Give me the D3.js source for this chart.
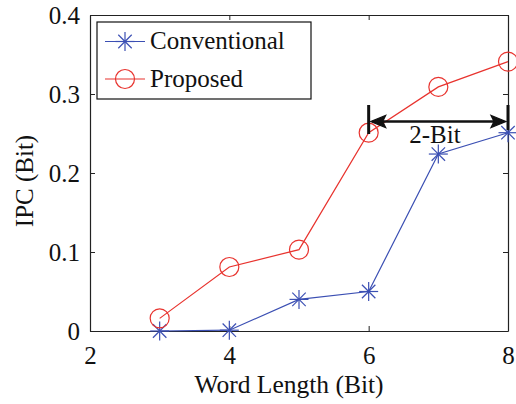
<!DOCTYPE html>
<html><head><meta charset="utf-8">
<script src="https://cdn.jsdelivr.net/npm/d3@7"></script>
<style>body{margin:0;background:#fff}svg{display:block}text{font-family:"Liberation Serif","Times New Roman",serif;fill:#111}</style>
</head><body>
<script>
const wordLength = [3, 4, 5, 6, 7, 8];
const conventional = [0.0, 0.001, 0.040, 0.050, 0.224, 0.251];
const proposed = [0.016, 0.081, 0.103, 0.251, 0.309, 0.341];
const xTicks = [2, 4, 6, 8];
const yTicks = [0, 0.1, 0.2, 0.3, 0.4];
const seriesNames = ["Conventional", "Proposed"];

(function () {
const W = 516, H = 404;
const m = {l: 90, r: 8, t: 15, b: 73};
const svg = d3.select("body").append("svg").attr("width", W).attr("height", H);
const x = d3.scaleLinear().domain([2, 8]).range([m.l, W - m.r]);
const y = d3.scaleLinear().domain([0, 0.4]).range([H - m.b, m.t]);
const fs = 25;

const gBottom = svg.append("g").attr("transform", `translate(0,${H - m.b})`)
  .call(d3.axisBottom(x).tickValues(xTicks).tickFormat(d3.format("d")).tickSizeInner(-5).tickSizeOuter(0).tickPadding(15));
const gLeft = svg.append("g").attr("transform", `translate(${m.l},0)`)
  .call(d3.axisLeft(y).tickValues(yTicks).tickFormat(d => d === 0 ? "0" : d3.format(".1f")(d)).tickSizeInner(-5).tickSizeOuter(0).tickPadding(10));
const gTop = svg.append("g").attr("transform", `translate(0,${m.t})`)
  .call(d3.axisTop(x).tickValues(xTicks).tickFormat("").tickSizeInner(-5).tickSizeOuter(0));
const gRight = svg.append("g").attr("transform", `translate(${W - m.r},0)`)
  .call(d3.axisRight(y).tickValues(yTicks).tickFormat("").tickSizeInner(-5).tickSizeOuter(0));
[gBottom, gLeft, gTop, gRight].forEach(g => {
  g.selectAll("path").attr("stroke", "#222").attr("stroke-width", 1.2);
  g.selectAll("line").attr("stroke", "#222").attr("stroke-width", 1);
  g.selectAll("text").style("font-size", fs + "px").style("font-family", '"Liberation Serif", serif').attr("fill", "#111");
});

svg.append("text").attr("x", 289).attr("y", 393).attr("text-anchor", "middle").style("font-size", "25.5px").text("Word Length (Bit)");
svg.append("text").attr("transform", `translate(33,181) rotate(-90)`).attr("text-anchor", "middle").style("font-size", fs + "px").text("IPC (Bit)");

const blue = "#3b4fb3", red = "#e8332e";
const line = d3.line().x((d, i) => x(wordLength[i])).y(d => y(d));

svg.append("path").datum(conventional).attr("d", line).attr("fill", "none").attr("stroke", blue).attr("stroke-width", 1.2);
function star(g, cx, cy, r, col) {
  for (let k = 0; k < 4; k++) {
    const a = k * Math.PI / 4;
    g.append("line").attr("x1", cx - r * Math.cos(a)).attr("y1", cy - r * Math.sin(a))
      .attr("x2", cx + r * Math.cos(a)).attr("y2", cy + r * Math.sin(a)).attr("stroke", col).attr("stroke-width", 1.2);
  }
}
const sg = svg.append("g");
conventional.forEach((v, i) => star(sg, x(wordLength[i]), y(v), 9.5, blue));

svg.append("path").datum(proposed).attr("d", line).attr("fill", "none").attr("stroke", red).attr("stroke-width", 1.2);
svg.append("g").selectAll("circle").data(proposed).join("circle")
  .attr("cx", (d, i) => x(wordLength[i])).attr("cy", d => y(d)).attr("r", 9.5)
  .attr("fill", "none").attr("stroke", red).attr("stroke-width", 1.2);

const ann = svg.append("g");
const ay = 121.5;
ann.append("line").attr("x1", x(6)).attr("x2", x(6)).attr("y1", 105).attr("y2", 134).attr("stroke", "#111").attr("stroke-width", 3);
ann.append("line").attr("x1", x(8)).attr("x2", x(8)).attr("y1", 105).attr("y2", 130).attr("stroke", "#111").attr("stroke-width", 3);
ann.append("line").attr("x1", x(6) + 4).attr("x2", x(8) - 4).attr("y1", ay).attr("y2", ay).attr("stroke", "#111").attr("stroke-width", 2.5);
ann.append("path").attr("d", `M${x(6)+2},${ay} l15,-6 l-3,6 l3,6 z`).attr("fill", "#111").attr("stroke", "#111").attr("stroke-width", 1.2).attr("stroke-linejoin", "miter");
ann.append("path").attr("d", `M${x(8)-2},${ay} l-15,-6 l3,6 l-3,6 z`).attr("fill", "#111").attr("stroke", "#111").attr("stroke-width", 1.2).attr("stroke-linejoin", "miter");
ann.append("text").attr("x", 435).attr("y", 143).attr("text-anchor", "middle").style("font-size", fs + "px").text("2-Bit");

const lg = svg.append("g");
lg.append("rect").attr("x", 97).attr("y", 22).attr("width", 214).attr("height", 77).attr("fill", "#fff").attr("stroke", "#111").attr("stroke-width", 1.2);
const rows = [41.5, 79];
lg.append("line").attr("x1", 105).attr("x2", 145).attr("y1", rows[0]).attr("y2", rows[0]).attr("stroke", blue).attr("stroke-width", 1.2);
star(lg, 125, rows[0], 9.5, blue);
lg.append("line").attr("x1", 105).attr("x2", 145).attr("y1", rows[1]).attr("y2", rows[1]).attr("stroke", red).attr("stroke-width", 1.2);
lg.append("circle").attr("cx", 125).attr("cy", rows[1]).attr("r", 9.5).attr("fill", "none").attr("stroke", red).attr("stroke-width", 1.2);
seriesNames.forEach((n, i) => lg.append("text").attr("x", 150).attr("y", rows[i] + 7.5).style("font-size", fs + "px").text(n));
})();
</script>
</body></html>
